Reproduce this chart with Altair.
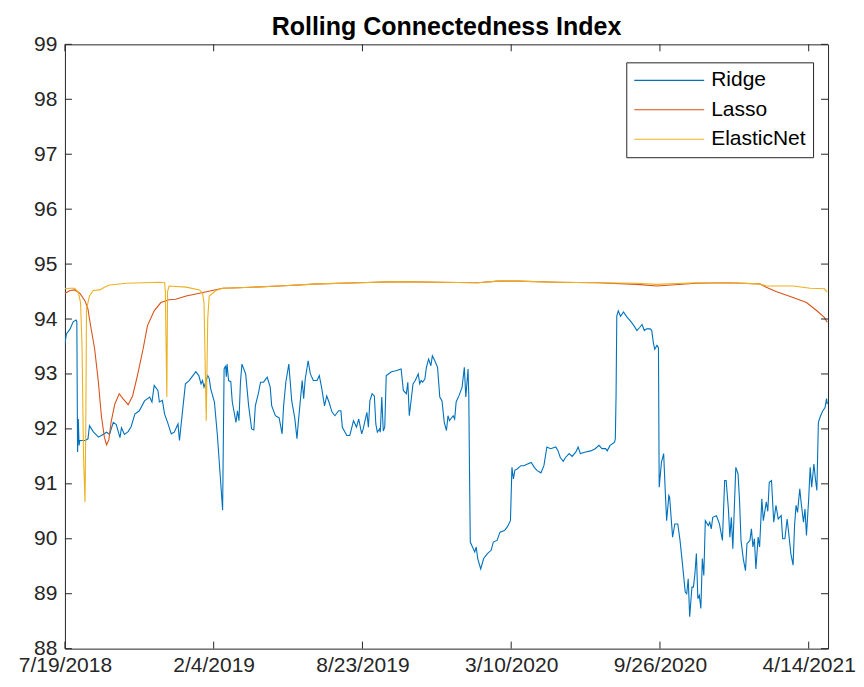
import altair as alt
import pandas as pd

START = pd.Timestamp("2018-07-19")
END = pd.Timestamp("2021-05-10")

# Ridge: (days since 7/19/2018, value)
ridge_day = [0, 2, 7, 11, 15, 16, 17, 18, 19, 20, 27, 31, 33, 38, 45, 49, 56, 60, 65, 69,
             74, 76, 80, 85, 89, 94, 100, 107, 114, 117, 120, 125, 127, 131, 134, 138, 143, 147, 152, 154,
             158, 162, 167, 172, 176, 180, 183, 185, 187, 192, 194, 196, 201, 205, 210, 212, 214, 216, 217, 218,
             220, 223, 225, 230, 232, 234, 236, 238, 243, 247, 251, 254, 256, 260, 263, 267, 272, 276, 278, 283,
             288, 292, 294, 297, 301, 305, 309, 312, 314, 319, 321, 323, 327, 330, 334, 339, 342, 345, 349, 352,
             355, 359, 363, 368, 371, 373, 379, 383, 388, 392, 395, 399, 401, 406, 408, 410, 413, 416, 418, 420,
             423, 424, 426, 428, 430, 432, 435, 439, 445, 452, 455, 459, 461, 463, 466, 468, 471, 475, 477, 479,
             481, 484, 486, 489, 492, 494, 497, 501, 504, 507, 510, 513, 515, 517, 522, 524, 526, 530, 534, 537,
             539, 542, 543, 544, 545, 548, 551, 553, 555, 559, 563, 568, 573, 576, 581, 585, 591, 595, 599, 601,
             603, 605, 608, 613, 617, 622, 627, 631, 635, 640, 644, 648, 653, 660, 663, 666, 670, 673, 678, 682,
             687, 690, 693, 700, 707, 713, 718, 722, 727, 729, 733, 739, 740, 741, 742, 744, 747, 751, 756, 760,
             765, 769, 773, 776, 779, 782, 787, 789, 791, 793, 796, 798, 799, 802, 805, 807, 809, 812, 813, 817,
             820, 824, 827, 830, 834, 836, 838, 840, 843, 845, 847, 849, 851, 853, 855, 857, 859, 861, 865, 867,
             869, 871, 876, 880, 884, 887, 889, 892, 894, 896, 898, 902, 905, 907, 909, 912, 915, 917, 921, 923,
             925, 927, 929, 932, 934, 937, 939, 943, 945, 947, 950, 953, 956, 959, 963, 965, 968, 971, 973, 976,
             979, 981, 983, 985, 988, 990, 993, 995, 997, 1000, 1002, 1004, 1007, 1009, 1011, 1013, 1016, 1019, 1022, 1024,
             1025]
ridge_val = [93.55, 93.73, 93.82, 93.95, 93.98, 93.95, 91.58, 92.18, 91.70, 91.79, 91.79, 91.82, 92.06, 91.95, 91.85, 91.88, 91.94, 91.90, 92.12, 92.08,
             91.84, 92.02, 91.90, 91.95, 92.04, 92.27, 92.33, 92.51, 92.58, 92.49, 92.79, 92.70, 92.49, 92.52, 92.27, 92.12, 91.91, 91.94, 92.09, 91.79,
             92.31, 92.82, 92.88, 92.97, 93.04, 92.97, 92.82, 92.88, 92.76, 92.97, 92.92, 92.73, 92.49, 91.88, 90.91, 90.52, 93.09, 93.15, 92.95, 93.18,
             92.88, 92.86, 92.49, 92.12, 92.33, 92.15, 92.85, 93.18, 93.00, 92.42, 92.00, 91.98, 92.42, 92.64, 92.85, 92.85, 92.94, 92.76, 92.42, 92.24,
             92.20, 91.91, 92.42, 92.85, 93.18, 92.50, 92.20, 91.82, 92.15, 92.88, 92.55, 92.90, 93.24, 93.00, 92.88, 92.88, 92.97, 92.76, 92.42, 92.60,
             92.49, 92.31, 92.24, 92.33, 92.33, 92.03, 91.88, 91.88, 92.15, 92.03, 92.18, 91.91, 92.00, 92.30, 92.03, 92.51, 92.64, 92.60, 92.09, 91.94,
             92.00, 91.94, 92.58, 91.96, 92.03, 92.97, 93.00, 93.04, 93.06, 93.09, 92.70, 92.64, 92.85, 92.24, 92.58, 92.82, 92.88, 93.00, 92.82, 92.88,
             92.85, 92.91, 93.12, 93.27, 93.15, 93.33, 93.25, 93.12, 92.58, 92.51, 92.12, 91.97, 92.24, 92.15, 92.24, 92.18, 92.49, 92.61, 92.76, 93.12,
             92.58, 93.09, 92.60, 91.20, 89.94, 89.85, 89.76, 89.85, 89.64, 89.45, 89.64, 89.73, 89.79, 89.94, 89.97, 90.12, 90.15, 90.22, 90.33, 91.30,
             91.09, 91.25, 91.27, 91.33, 91.33, 91.36, 91.39, 91.30, 91.24, 91.20, 91.33, 91.67, 91.64, 91.67, 91.60, 91.48, 91.41, 91.48, 91.55, 91.50,
             91.58, 91.67, 91.55, 91.58, 91.60, 91.64, 91.70, 91.64, 91.64, 91.60, 91.70, 91.76, 91.82, 92.60, 94.06, 94.15, 94.05, 94.13, 94.03, 93.97,
             93.88, 93.79, 93.85, 93.90, 93.79, 93.82, 93.82, 93.79, 93.58, 93.45, 93.52, 93.48, 90.94, 91.39, 91.55, 90.91, 90.33, 90.79, 90.76, 90.03,
             90.27, 90.27, 89.97, 89.58, 89.03, 89.00, 89.27, 88.58, 89.12, 89.12, 89.36, 89.73, 88.91, 88.97, 88.73, 89.64, 89.33, 90.33, 90.24, 90.30,
             90.18, 90.39, 90.42, 90.27, 89.97, 91.06, 91.06, 90.55, 90.03, 90.39, 89.82, 91.30, 91.18, 90.70, 89.97, 89.64, 89.42, 89.91, 89.97, 90.18,
             89.85, 90.00, 89.45, 90.03, 89.85, 90.73, 90.33, 90.67, 90.50, 91.03, 91.06, 90.30, 90.61, 90.36, 90.42, 90.00, 90.00, 90.36, 90.12, 89.73,
             89.52, 90.24, 90.61, 90.48, 90.91, 90.64, 90.30, 90.54, 90.06, 90.73, 91.30, 90.94, 91.36, 91.09, 90.88, 92.12, 92.24, 92.33, 92.39, 92.55,
             92.45]

lasso_day = [0, 7, 13, 20, 27, 31, 33, 40, 45, 49, 53, 56, 59, 62, 67, 73, 78, 85, 91, 98,
             105, 111, 120, 129, 140, 149, 163, 181, 212, 234, 288, 341, 395, 448, 502, 555, 582, 609, 662, 716,
             769, 796, 849, 889, 934, 943, 956, 979, 997, 1011, 1021, 1025]
lasso_val = [94.47, 94.52, 94.53, 94.47, 94.33, 94.18, 94.00, 93.45, 92.85, 92.24, 91.85, 91.71, 91.80, 92.12, 92.45, 92.64, 92.55, 92.44, 92.60, 93.00,
             93.45, 93.88, 94.15, 94.30, 94.35, 94.36, 94.42, 94.47, 94.56, 94.57, 94.60, 94.64, 94.66, 94.68, 94.67, 94.66, 94.69, 94.69, 94.67, 94.66,
             94.63, 94.60, 94.65, 94.66, 94.64, 94.58, 94.50, 94.39, 94.30, 94.15, 94.03, 93.94]

enet_day = [0, 7, 13, 18, 21, 23, 25, 27, 28, 29, 33, 38, 47, 53, 60, 83, 127, 134, 135, 137,
            138, 140, 163, 181, 185, 187, 190, 192, 194, 203, 212, 234, 288, 341, 395, 448, 502, 555, 582, 609,
            662, 716, 769, 796, 849, 889, 934, 943, 979, 1002, 1021, 1025]
enet_val = [94.55, 94.56, 94.56, 94.49, 94.30, 93.50, 91.50, 90.67, 92.00, 94.18, 94.42, 94.52, 94.53, 94.58, 94.62, 94.65, 94.67, 94.66, 94.50, 92.58,
            94.50, 94.60, 94.58, 94.53, 94.47, 94.30, 92.15, 94.00, 94.42, 94.52, 94.56, 94.57, 94.60, 94.64, 94.66, 94.68, 94.67, 94.66, 94.69, 94.69,
            94.67, 94.66, 94.65, 94.63, 94.66, 94.66, 94.64, 94.60, 94.60, 94.56, 94.55, 94.49]

series_names = ["Ridge", "Lasso", "ElasticNet"]
series_colors = ["#0072BD", "#D95319", "#EDB120"]
x_tick_dates = ["2018-07-19", "2019-02-04", "2019-08-23", "2020-03-10", "2020-09-26", "2021-04-14"]
y_tick_vals = list(range(88, 100))


def frame(days, vals, name):
    return pd.DataFrame({
        "date": [START + pd.Timedelta(days=d) for d in days],
        "value": vals,
        "series": name,
    })


df = pd.concat([
    frame(ridge_day, ridge_val, "Ridge"),
    frame(lasso_day, lasso_val, "Lasso"),
    frame(enet_day, enet_val, "ElasticNet"),
])
df["order"] = df["series"].map({n: i for i, n in enumerate(series_names)})

W, H = 764, 605
TL = 7
AX = "#262626"
FONT = "Liberation Sans"

x_scale = alt.Scale(domain=[START.isoformat(), END.isoformat()])
y_scale = alt.Scale(domain=[88, 99], nice=False, zero=False)

x_axis = alt.Axis(values=[pd.Timestamp(d).isoformat() for d in x_tick_dates],
                  format="%-m/%-d/%Y", title=None, ticks=False, tickSize=0,
                  domain=False, grid=False, labelPadding=6, labelFlush=False,
                  labelOverlap=False,
                  labelFontSize=21, labelColor=AX, labelFont=FONT)
y_axis = alt.Axis(values=y_tick_vals, title=None, ticks=False, tickSize=0,
                  domain=False, grid=False, labelPadding=8, labelFlush=False,
                  labelOverlap=False,
                  labelFontSize=21, labelColor=AX, labelFont=FONT)

lines = alt.Chart(df).mark_line(strokeWidth=1.1, clip=True).encode(
    x=alt.X("date:T", scale=x_scale, axis=x_axis),
    y=alt.Y("value:Q", scale=y_scale, axis=y_axis),
    color=alt.Color("series:N",
                    scale=alt.Scale(domain=series_names, range=series_colors),
                    legend=alt.Legend(title=None, orient="none", legendX=562, legendY=18,
                                      symbolType="stroke", symbolSize=4900, symbolStrokeWidth=1.2,
                                      clipHeight=22, rowPadding=7.5,
                                      labelFontSize=21, labelFont=FONT, labelColor="#000000",
                                      strokeColor=AX, fillColor="white", padding=7,
                                      labelOffset=6, cornerRadius=0)),
    detail="series:N",
    order="order:Q",
)

xt = pd.DataFrame({"date": [pd.Timestamp(d) for d in x_tick_dates]})
yt = pd.DataFrame({"value": y_tick_vals})

xb = alt.Chart(xt).mark_rule(color=AX, strokeWidth=1).encode(
    x=alt.X("date:T", scale=x_scale, axis=x_axis), y=alt.value(H), y2=alt.value(H - TL))
xtop = alt.Chart(xt).mark_rule(color=AX, strokeWidth=1).encode(
    x=alt.X("date:T", scale=x_scale, axis=x_axis), y=alt.value(0), y2=alt.value(TL))
yl = alt.Chart(yt).mark_rule(color=AX, strokeWidth=1).encode(
    y=alt.Y("value:Q", scale=y_scale, axis=y_axis), x=alt.value(0), x2=alt.value(TL))
yr = alt.Chart(yt).mark_rule(color=AX, strokeWidth=1).encode(
    y=alt.Y("value:Q", scale=y_scale, axis=y_axis), x=alt.value(W), x2=alt.value(W - TL))

chart = alt.layer(lines, xb, xtop, yl, yr).properties(
    width=W, height=H, background="white",
    padding={"left": 10, "top": 7, "right": 0, "bottom": 0},
    title=alt.TitleParams("Rolling Connectedness Index", fontSize=25, fontWeight="bold",
                          font=FONT, color="#000000", anchor="middle", offset=0, dy=7),
).configure_view(stroke=AX, strokeWidth=1)

chart.save("out.html", embed_options={"renderer": "svg", "actions": False})
